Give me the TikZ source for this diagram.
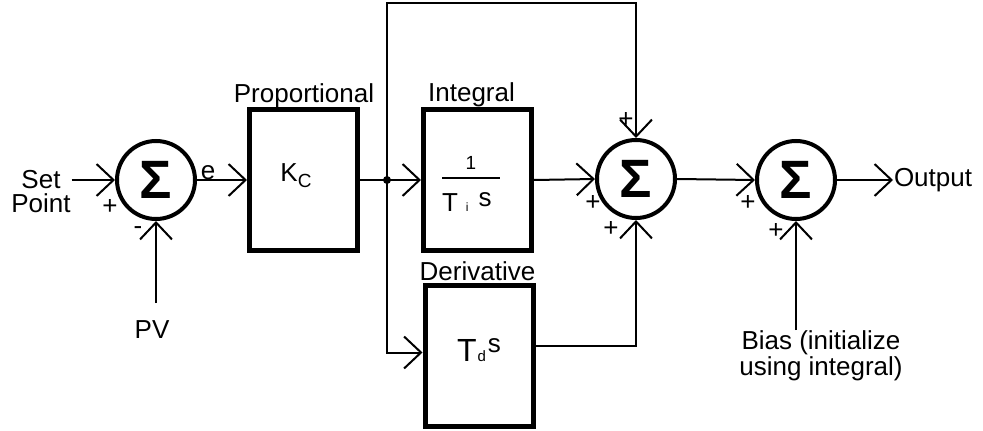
\documentclass[tikz,border=0pt]{standalone}
\usepackage{fontspec}
\setmainfont{Liberation Sans}
\usetikzlibrary{arrows.meta}

\begin{document}
\begin{tikzpicture}[x=1pt, y=-1pt, line width=2pt,
        >={Straight Barb[length=17pt,width=32pt]},
        txt/.style={inner sep=0pt, font=\fontsize{26}{22}\selectfont},
        sgn/.style={inner sep=0pt, font=\fontsize{26}{26}\selectfont},
        summ/.style={circle, draw, line width=4pt, minimum size=78pt, inner sep=0pt,
            font=\fontsize{54}{54}\selectfont\bfseries},
        block/.style={draw, line width=5pt, minimum width=108pt, minimum height=141pt,
            inner sep=0pt, font=\fontsize{26}{26}\selectfont}]
        \useasboundingbox (0,0) rectangle (983,431);

        % 求和节点
        \node[summ] (s1) at (156,180) {Σ};
        \node[summ] (s2) at (636,179) {Σ};
        \node[summ] (s3) at (796,180) {Σ};

        % 三个环节
        \node[block] (kp) at (303.5,180) {K\raisebox{-6pt}{\fontsize{19}{19}\selectfont C}\rule[-14pt]{0pt}{0pt}\kern15pt};
        \node[block] (ki) at (477.5,180) {\vbox{\kern8.5pt
            \hbox to 58pt{\hss\fontsize{19}{19}\selectfont 1\hss}\kern7pt
            \hrule height 2pt\kern14pt
            \hbox to 58pt{T\kern8pt{\fontsize{12}{12}\selectfont i}\kern10pt\raisebox{5pt}{s}\hss}}\kern13pt};
        \node[block] (kd) at (479,355.5) {\raisebox{11pt}{\fontsize{32}{32}\selectfont T\kern1pt
            {\fontsize{15}{15}\selectfont d}\kern2pt{\fontsize{26}{26}\selectfont\raisebox{9pt}{s}}}};

        % 文字
        \node[txt, anchor=base] (lp) at (304,102) {Proportional};
        \node[txt, anchor=base] (li) at (471.5,101) {Integral};
        \node[txt, anchor=base] (ld) at (477.5,280) {Derivative};
        \node[txt, anchor=north, align=center] (sp) at (41,169) {Set\\[2pt]Point};
        \node[txt, anchor=north, outer ysep=18pt] (pv) at (152,303) {PV};
        \node[txt] (e) at (208,173) {e};
        \node[txt, anchor=west] (out) at (893,180) {Output};
        \node[txt, anchor=north, align=center] (bias) at (821,330) {Bias (initialize\\using integral)};

        % 正负号
        \node[sgn] (p1) at (110,207) {+};
        \node[sgn] (m1) at (138,231) {-};
        \node[sgn] (p2) at (626,120) {+};
        \node[sgn] (p3) at (593,203) {+};
        \node[sgn] (p4) at (611,229) {+};
        \node[sgn] (p5) at (748,203) {+};
        \node[sgn] (p6) at (776,231) {+};

        % 连线
        \draw[->] (sp.east |- s1.west) -- (s1.west);
        \draw[->] (pv.north -| s1.south) -- (s1.south);
        \draw[->] (s1.east) -- (kp.west);
        \draw[->] (kp.east) -- (ki.west);
        \coordinate (jn) at (387,180);
        \fill (jn) circle (4pt);
        \coordinate (top) at (387,3);
        \draw[->] (jn) -- (top) -| (s2.north);
        \draw[->] (jn) |- ([yshift=3pt]kd.west);
        \draw[->] (ki.east) -- (s2.west);
        \draw[->] ([yshift=10pt]kd.east) -| (s2.south);
        \draw[->] (s2.east) -- (s3.west);
        \draw[->] (s3.east) -- (s3.east -| out.west);
        \draw[->] (bias.north -| s3.south) -- (s3.south);
\end{tikzpicture}
\end{document}
